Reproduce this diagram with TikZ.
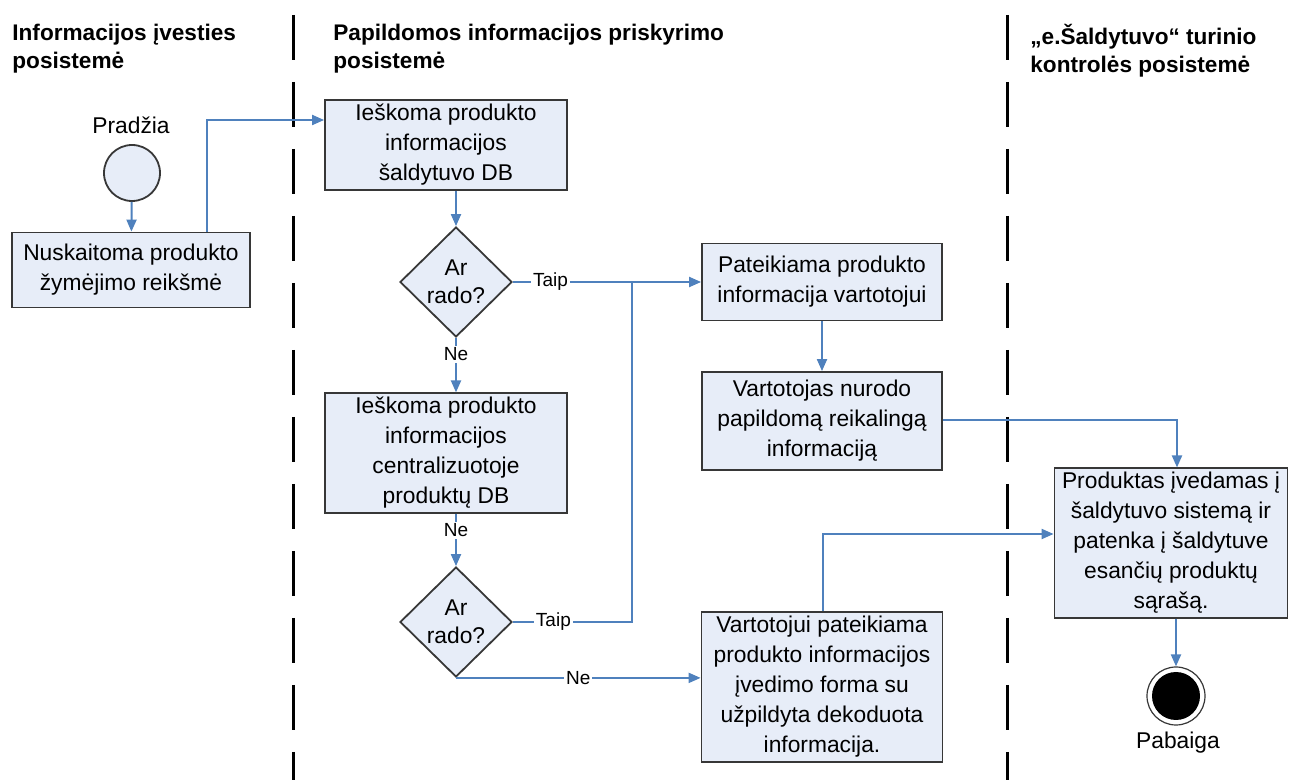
\documentclass[tikz,border=0pt]{standalone}
\usepackage{fontspec}
\setmainfont{Liberation Sans}
\usetikzlibrary{arrows.meta,positioning,shapes.geometric,calc}
\definecolor{flowblue}{RGB}{79,129,189}
\definecolor{boxfill}{RGB}{231,237,248}
\definecolor{edge}{RGB}{55,55,55}
\tikzset{
  >={Triangle[length=6pt,width=5pt]},
  act/.style={draw=edge,fill=boxfill,line width=0.9pt,align=center,inner sep=2pt,
    font=\fontsize{11.4}{15}\selectfont,minimum width=#1},
  act/.default=120pt,
  choice/.style={diamond,draw=edge,fill=boxfill,line width=0.9pt,align=center,inner sep=0pt,
    minimum width=56pt,minimum height=55pt,font=\fontsize{11.4}{14}\selectfont},
  startpt/.style={circle,draw=edge,fill=boxfill,line width=0.9pt,minimum size=28pt,inner sep=0pt},
  endpt/.style={circle,draw=edge,fill=white,line width=0.6pt,minimum size=29pt,inner sep=0pt,
    path picture={\fill[black] (path picture bounding box.center) circle (12pt);}},
  flow/.style={->,line width=1pt,draw=#1},
  flow/.default=flowblue,
  joinline/.style={line width=1pt,draw=flowblue},
  tag/.style={font=\fontsize{9.5}{11}\selectfont,fill=white,inner sep=1pt},
  caption/.style={font=\fontsize{11.4}{14}\selectfont},
  lanehead/.style={font=\fontsize{11.3}{14}\selectfont\bfseries,align=left,anchor=north west,inner sep=0pt},
  lane/.style={line width=1.5pt,dash pattern=on 22.5pt off 11pt},
}
\begin{document}
\begin{tikzpicture}[x=0.5pt,y=-0.5pt]
  \useasboundingbox (0,0) rectangle (1292,780);
  % swimlanes
  \foreach \x in {293,1007} \draw[lane] (\x,15) -- (\x,780);
  \node[lanehead] (h1) at (12,24) {Informacijos įvesties\\posistemė};
  \node[lanehead] (h2) at (333,24) {Papildomos informacijos priskyrimo\\posistemė};
  \node[lanehead] (h3) at (1030,24) {„e.Šaldytuvo“ turinio\\kontrolės posistemė};

  \node[startpt] (start) at (132,173) {};
  \node[caption] (startlbl) at (131,125) {Pradžia};
  \node[act,minimum height=37.5pt,minimum width=119pt] (read) at (131,270) {Nuskaitoma produkto\\žymėjimo reikšmė};
  \node[act,minimum height=42.5pt,minimum width=121pt] (db1) at (446,145) {Ieškoma produkto\\informacijos\\šaldytuvo DB};
  \node[choice] (dia1) at (456,282) {Ar\\rado?};
  \node[act,minimum height=55pt,minimum width=121pt] (db2) at (446,453) {Ieškoma produkto\\informacijos\\centralizuotoje\\produktų DB};
  \node[choice] (dia2) at (456,622) {Ar\\rado?};
  \node[act,minimum height=38.5pt] (show) at (822,282) {Pateikiama produkto\\informacija vartotojui};
  \node[act,minimum height=49pt] (user) at (822,421) {Vartotojas nurodo\\papildomą reikalingą\\informaciją};
  \node[act,minimum height=75pt,minimum width=120.5pt] (form) at (822,687) {Vartotojui pateikiama\\produkto informacijos\\įvedimo forma su\\užpildyta dekoduota\\informacija.};
  \node[act,minimum height=74.5pt,minimum width=116.5pt] (add) at (1171,543) {Produktas įvedamas į\\šaldytuvo sistemą ir\\patenka į šaldytuve\\esančių produktų\\sąrašą.};
  \node[endpt] (end) at (1176,696) {};
  \node[caption] (endlbl) at (1178,743) {Pabaiga};

  \coordinate (j1) at (207,120);
  \coordinate (j2) at (632,282);
  \coordinate (j3) at (1177,420);
  \coordinate (j4) at (823,534);

  \draw[flow] (start) -- (read);
  \draw[flow] (read.north -| j1) -- (j1) -- (j1 -| db1.west);
  \draw[flow] (db1.south -| dia1) -- (dia1.north);
  \draw[flow] (dia1.east) -- node[tag,pos=0.2] {Taip} (show.west);
  \draw[flow] (dia1.south) -- node[tag,pos=0.3] {Ne} (db2.north -| dia1);
  \draw[flow] (db2.south -| dia2) -- node[tag,pos=0.32] {Ne} (dia2.north);
  \draw[joinline] (dia2.east) -- node[tag,pos=0.34] {Taip} (dia2.east -| j2) -- (j2);
  \draw[flow] (dia2.south) -- node[tag,pos=0.5] {Ne} (dia2.south -| form.west);
  \draw[flow] (show) -- (user);
  \draw[flow] (user.east |- j3) -- (j3) -- (j3 |- add.north);
  \draw[flow] (form.north -| j4) -- (j4) -- (j4 -| add.west);
  \draw[flow] (add.south -| end) -- (end.north);
\end{tikzpicture}
\end{document}
